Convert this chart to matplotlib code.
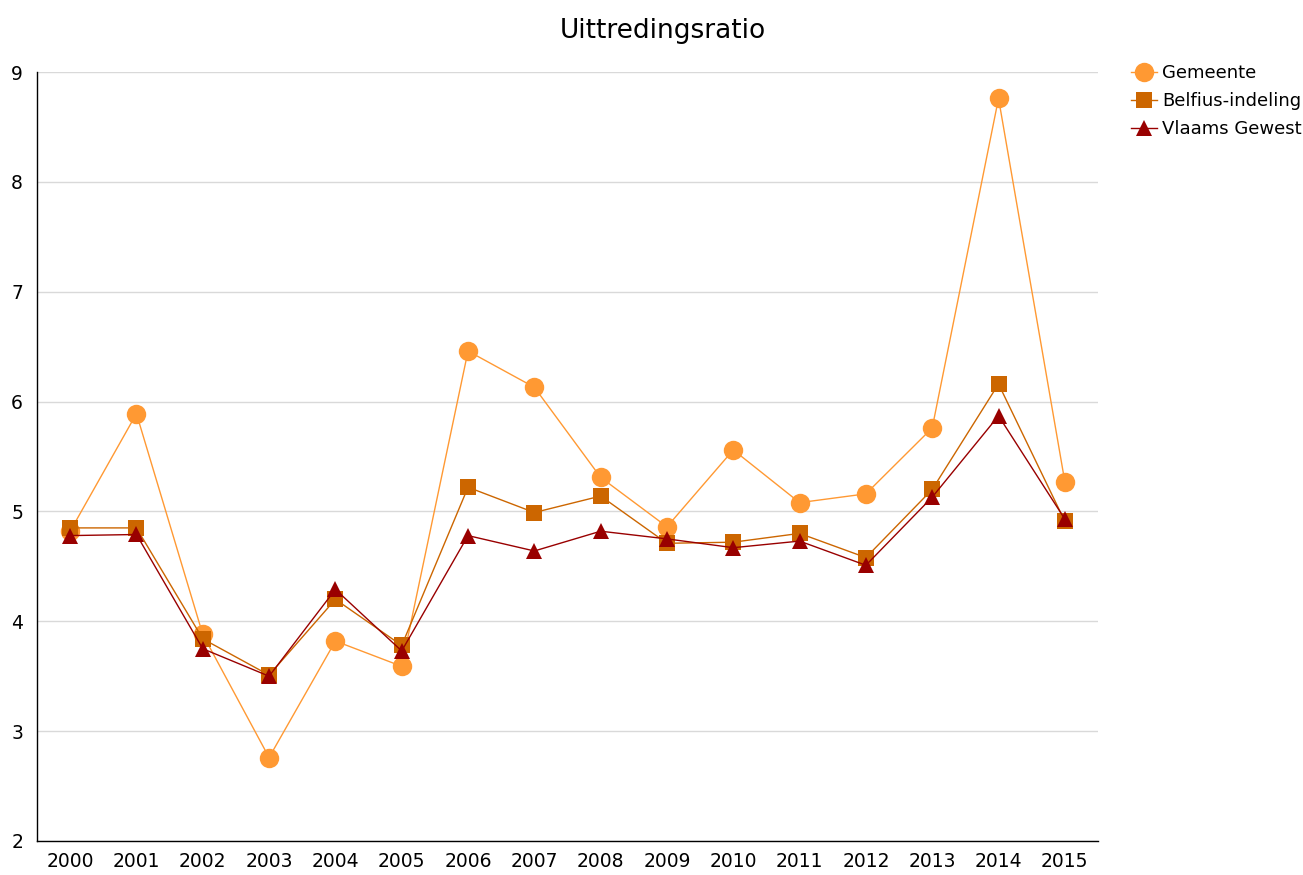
import numpy as np
import matplotlib.pyplot as plt

years = [str(y) for y in range(2000, 2016)]
gemeente = [4.82, 5.89, 3.88, 2.76, 3.82, 3.59, 6.46, 6.13, 5.31, 4.86,
            5.56, 5.08, 5.16, 5.76, 8.76, 5.27]
belfius = [4.85, 4.85, 3.84, 3.51, 4.20, 3.78, 5.22, 4.99, 5.14, 4.71,
           4.72, 4.80, 4.58, 5.20, 6.16, 4.91]
vlaams = [4.78, 4.79, 3.75, 3.50, 4.29, 3.73, 4.78, 4.64, 4.82, 4.75,
          4.67, 4.73, 4.51, 5.13, 5.87, 4.93]

series = [
    ("Gemeente", gemeente, "#FF9933", "o", 14),
    ("Belfius-indeling", belfius, "#CC6600", "s", 12),
    ("Vlaams Gewest", vlaams, "#990000", "^", 12),
]

fig = plt.figure(figsize=(13.03, 8.75), dpi=100)
ax = fig.add_axes([37 / 1303, 34 / 875, 1061 / 1303, 769 / 875])

x = np.arange(len(years))
for name, values, color, marker, size in series:
    ax.plot(x, values, color=color, linewidth=1, marker=marker,
            markersize=size, markeredgewidth=0, label=name, zorder=3)

ax.set_xlim(-0.5, len(years) - 0.5)
ax.set_ylim(2, 9)
ax.set_xticks(x)
ax.set_xticklabels(years)
ax.set_yticks(range(2, 10))
ax.tick_params(axis="both", length=0, labelsize=13.5, pad=8)
ax.tick_params(axis="y", pad=10)
ax.grid(axis="y", color="#d9d9d9", linewidth=1)
ax.set_axisbelow(True)
for side in ("top", "right"):
    ax.spines[side].set_visible(False)
for side in ("left", "bottom"):
    ax.spines[side].set_color("black")
    ax.spines[side].set_linewidth(1)

fig.text(663 / 1303, 1 - 31 / 875, "Uittredingsratio", ha="center",
         va="center", fontsize=19)

ax.legend(loc="upper left", bbox_to_anchor=(1124 / 1303, 1 - 57 / 875),
          bbox_transform=fig.transFigure, frameon=False, borderaxespad=0,
          borderpad=0.4, fontsize=13, handlelength=1.4, handletextpad=0.3,
          labelspacing=0.55)

fig.savefig("out.png", dpi=100)
